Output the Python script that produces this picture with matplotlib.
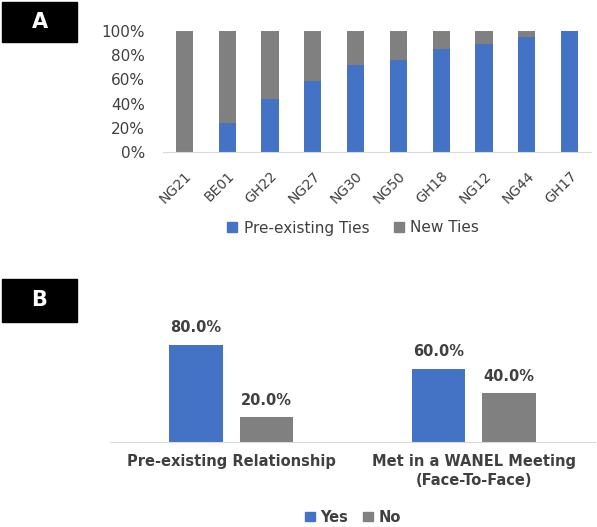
import matplotlib
matplotlib.use("Agg")
import matplotlib.pyplot as plt
from matplotlib.patches import Rectangle, Patch
import numpy as np

# panel A: share of ties per network
networks = ["NG21", "BE01", "GH22", "NG27", "NG30", "NG50", "GH18", "NG12", "NG44", "GH17"]
pre_existing = [0, 24, 44, 59, 72, 76, 85, 89, 95, 100]
new_ties = [100 - v for v in pre_existing]

# panel B
groups = ["Pre-existing Relationship", "Met in a WANEL Meeting\n(Face-To-Face)"]
yes_vals = [80.0, 60.0]
no_vals = [20.0, 40.0]

BLUE = "#4472C4"
GRAY = "#808080"
TXT = "#404040"

plt.rcParams["font.family"] = "DejaVu Sans"

fig = plt.figure(figsize=(5.97, 5.27), dpi=100)

# ---- panel A
axA = fig.add_axes([0.273, 0.7116, 0.717, 0.2296])
x = np.arange(len(networks))
axA.bar(x, np.array(pre_existing) / 100, width=0.4, color=BLUE, label="Pre-existing Ties")
axA.bar(x, np.array(new_ties) / 100, width=0.4, bottom=np.array(pre_existing) / 100,
        color=GRAY, label="New Ties")
axA.set_xlim(-0.5, len(networks) - 0.5)
axA.set_ylim(0, 1)
axA.set_yticks(np.linspace(0, 1, 6))
axA.set_yticklabels([f"{int(v)}%" for v in np.linspace(0, 100, 6)], fontsize=11, color=TXT)
axA.set_xticks(x)
axA.set_xticklabels(networks, rotation=45, ha="right", rotation_mode="anchor",
                    fontsize=10, color=TXT)
axA.tick_params(axis="y", length=0, pad=13)
axA.tick_params(axis="x", length=0, pad=12)
for s in ["top", "right", "left"]:
    axA.spines[s].set_visible(False)
axA.spines["bottom"].set_color("#d9d9d9")
fig.legend(handles=[Patch(color=BLUE, label="Pre-existing Ties"), Patch(color=GRAY, label="New Ties")],
           loc="center", bbox_to_anchor=(353 / 597, 1 - 228 / 527), ncol=2, frameon=False,
           fontsize=11, handlelength=0.65, handleheight=0.65, columnspacing=1.6,
           handletextpad=0.4, labelcolor=TXT)

# ---- panel B
axB = fig.add_axes([0.184, 0.1619, 0.813, 0.2296])
xb = np.arange(len(groups))
off = 0.145
w = 0.22
b1 = axB.bar(xb - off, np.array(yes_vals) / 100, width=w, color=BLUE)
b2 = axB.bar(xb + off, np.array(no_vals) / 100, width=w, color=GRAY)
for bars, vals in [(b1, yes_vals), (b2, no_vals)]:
    for r, v in zip(bars, vals):
        axB.annotate(f"{v:.1f}%", (r.get_x() + r.get_width() / 2, r.get_height()),
                     xytext=(0, 7), textcoords="offset points", ha="center", va="bottom",
                     fontsize=10.5, fontweight="bold", color=TXT)
axB.set_xlim(-0.5, len(groups) - 0.5)
axB.set_ylim(0, 1)
axB.set_yticks([])
axB.set_xticks(xb)
axB.set_xticklabels(groups, fontsize=10.5, fontweight="bold", color=TXT, linespacing=1.3)
axB.tick_params(length=0, pad=9)
for s in ["top", "right", "left"]:
    axB.spines[s].set_visible(False)
axB.spines["bottom"].set_color("#d9d9d9")
fig.legend(handles=[Patch(color=BLUE, label="Yes"), Patch(color=GRAY, label="No")],
           loc="center", bbox_to_anchor=(353 / 597, 1 - 517 / 527), ncol=2, frameon=False,
           prop={"size": 10.5, "weight": "bold"}, handlelength=0.65, handleheight=0.65,
           columnspacing=1.0, handletextpad=0.4, labelcolor=TXT)

# panel letters
for letter, y0, y1 in [("A", 2, 42), ("B", 279, 322)]:
    fig.patches.append(Rectangle((2 / 597, 1 - y1 / 527), 75 / 597, (y1 - y0) / 527,
                                 transform=fig.transFigure, color="black"))
    fig.text(39.5 / 597, 1 - (y0 + y1) / 2 / 527, letter, color="white", fontsize=15,
             fontweight="bold", ha="center", va="center")

fig.savefig("out.png", dpi=100)
